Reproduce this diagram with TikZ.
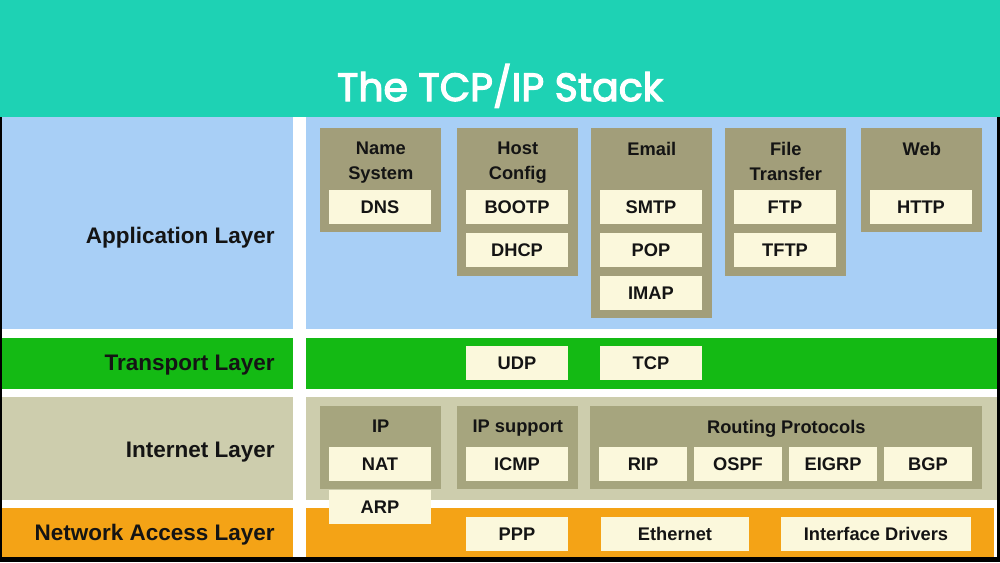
\documentclass[tikz,border=0pt]{standalone}
\usepackage{fontspec}
\setmainfont{Liberation Sans}
\newfontfamily\titlefont{Poppins}[FakeBold=3]
\usepackage{tikz}
\usetikzlibrary{positioning}
\usepackage{xcolor}
\definecolor{titlebg}{HTML}{1ED2B4}
\definecolor{appbg}{HTML}{A8CFF6}
\definecolor{transbg}{HTML}{14BA14}
\definecolor{inetbg}{HTML}{CDCDAD}
\definecolor{accessbg}{HTML}{F4A316}
\definecolor{groupbg}{HTML}{A29E7A}
\definecolor{inetgroup}{HTML}{A6A57E}
\definecolor{itembg}{HTML}{FBF8DC}
\definecolor{ink}{HTML}{141414}

\begin{document}
\begin{tikzpicture}[x=0.025cm, y=-0.025cm,
    layerlabel/.style={anchor=east, inner sep=0pt, text=ink, font=\fontsize{16}{19}\selectfont\bfseries},
    group/.style={fill=groupbg, anchor=north west, minimum width=3.025cm, inner sep=0pt},
    grouptitle/.style={inner sep=0pt, anchor=north, align=center, text=ink, font=\fontsize{13}{17.7}\selectfont\bfseries},
    item/.style={fill=itembg, minimum width=2.525cm, minimum height=0.85cm, inner sep=0pt, text=ink, font=\fontsize{13}{15}\selectfont\bfseries}]
    \useasboundingbox (0,0) rectangle (1000,562);
    \fill[black] (0,0) rectangle (1000,562);
    \fill[white] (2,116) rectangle (997,557);
    \fill[titlebg] (0,0) rectangle (1000,117);
    \fill[appbg] (2,117) rectangle (293,329);
    \fill[appbg] (306,117) rectangle (997,329);
    \fill[transbg] (2,338) rectangle (293,389);
    \fill[transbg] (306,338) rectangle (997,389);
    \fill[inetbg] (2,397) rectangle (293,500);
    \fill[inetbg] (306,397) rectangle (997,500);
    \fill[accessbg] (2,508) rectangle (293,557);
    \fill[accessbg] (306,508) rectangle (994,557);

    \node[anchor=base, text=white, font=\titlefont\fontsize{28}{32}\selectfont] (title) at (500,101) {The TCP/IP Stack};

    \node[layerlabel] (app) at (275,238) {Application Layer};
    \node[layerlabel] (transport) at (275,365) {Transport Layer};
    \node[layerlabel] (internet) at (275,452) {Internet Layer};
    \node[layerlabel] (access) at (275,535) {Network Access Layer};

    \node[group, minimum height=2.6cm] (namesys) at (320,128) {};
    \node[group, minimum height=3.7cm] (hostcfg) at (457,128) {};
    \node[group, minimum height=4.75cm] (email) at (591,128) {};
    \node[group, minimum height=3.7cm] (filetrans) at (725,128) {};
    \node[group, minimum height=2.6cm] (web) at (861,128) {};
    \node[grouptitle, below=0.35cm of namesys.north] (namesys-t) {Name\\System};
    \node[grouptitle, below=0.35cm of hostcfg.north] (hostcfg-t) {Host\\Config};
    \node[grouptitle, below=0.35cm of email.north] (email-t) {Email};
    \node[grouptitle, below=0.35cm of filetrans.north] (filetrans-t) {File\\Transfer};
    \node[grouptitle, below=0.35cm of web.north] (web-t) {Web};

    \node[item] (dns) at (380,207) {DNS};
    \node[item] (bootp) at (517,207) {BOOTP};
    \node[item] (dhcp) at (517,250) {DHCP};
    \node[item] (smtp) at (651,207) {SMTP};
    \node[item] (pop) at (651,250) {POP};
    \node[item] (imap) at (651,293) {IMAP};
    \node[item] (ftp) at (785,207) {FTP};
    \node[item] (tftp) at (785,250) {TFTP};
    \node[item] (http) at (921,207) {HTTP};

    \node[item] (udp) at (517,363) {UDP};
    \node[item] (tcp) at (651,363) {TCP};

    \node[group, fill=inetgroup, minimum height=2.075cm] (ipgroup) at (320,406) {};
    \node[group, fill=inetgroup, minimum height=2.075cm] (ipsupport) at (457,406) {};
    \node[group, fill=inetgroup, minimum height=2.075cm, minimum width=9.8cm] (routing) at (590,406) {};
    \node[grouptitle, below=0.35cm of ipgroup.north] (ipgroup-t) {IP};
    \node[grouptitle, below=0.35cm of ipsupport.north] (ipsupport-t) {IP support};
    \node[grouptitle, below=0.35cm of routing.north] (routing-t) {Routing Protocols};

    \node[item] (nat) at (380,464) {NAT};
    \node[item] (arp) at (380,507) {ARP};
    \node[item] (icmp) at (517,464) {ICMP};
    \node[item, minimum width=2.175cm] (rip) at (643,464) {RIP};
    \node[item, minimum width=2.175cm] (ospf) at (738,464) {OSPF};
    \node[item, minimum width=2.175cm] (eigrp) at (833,464) {EIGRP};
    \node[item, minimum width=2.175cm] (bgp) at (928,464) {BGP};

    \node[item] (ppp) at (517,534) {PPP};
    \node[item, minimum width=3.7cm] (ethernet) at (675,534) {Ethernet};
    \node[item, minimum width=4.725cm] (drivers) at (876,534) {Interface Drivers};
\end{tikzpicture}
\end{document}
